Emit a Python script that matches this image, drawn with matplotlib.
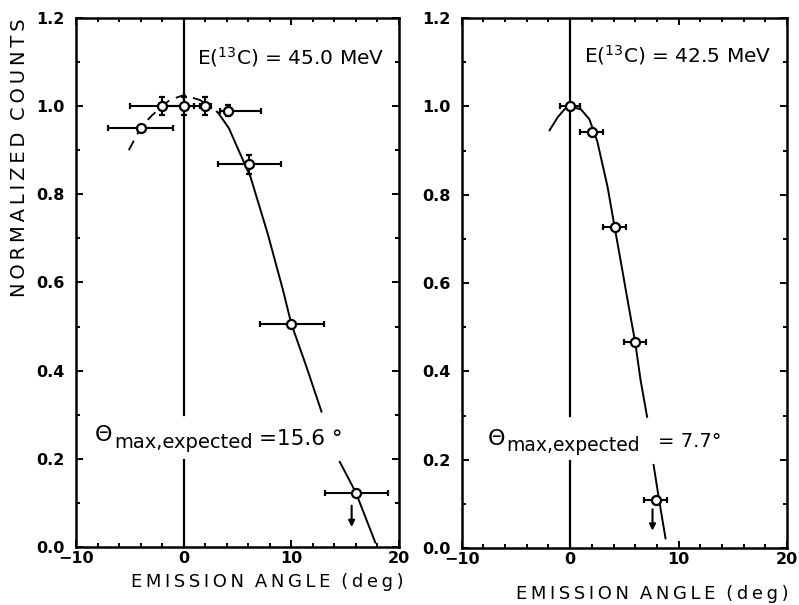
import numpy as np
import matplotlib.pyplot as plt
from matplotlib.ticker import MultipleLocator

# ---- E(13C) = 45.0 MeV ----
ang_45 = [-4.0, -2.0, 0.0, 2.0, 4.1, 6.1, 10.0, 16.0]
cnt_45 = [0.95, 1.0, 1.0, 1.0, 0.99, 0.868, 0.506, 0.123]
xerr_lo_45 = [3.0, 3.0, 2.0, 0.5, 0.7, 2.9, 2.9, 2.9]
xerr_hi_45 = [3.0, 3.0, 2.0, 0.5, 3.1, 2.9, 3.0, 3.0]
yerr_45 = [0.0, 0.021, 0.021, 0.021, 0.012, 0.022, 0.0, 0.0]

# curve (dashed top, dotted join, solid fall-off, lower tail)
fit45_dash_x = [-5.1, -3.9, -2.9, -1.3, 0.0, 1.5, 2.4]
fit45_dash_y = [0.90, 0.955, 0.98, 1.014, 1.025, 1.014, 1.0]
fit45_dot_x = [2.4, 3.2]
fit45_dot_y = [1.0, 0.985]
fit45_x = [3.2, 4.2, 5.1, 6.2, 7.8, 9.2, 10.0, 11.4, 12.8]
fit45_y = [0.985, 0.95, 0.90, 0.84, 0.711, 0.585, 0.506, 0.409, 0.307]
fit45_tail_x = [14.5, 16.0, 17.8]
fit45_tail_y = [0.193, 0.123, 0.01]
arrow45 = (15.6, 0.10, 0.039)

# ---- E(13C) = 42.5 MeV ----
ang_42 = [0.0, 2.0, 4.1, 6.0, 7.9]
cnt_42 = [1.0, 0.941, 0.726, 0.466, 0.109]
xerr_42 = [0.95, 1.05, 1.05, 1.0, 1.05]

fit42_x = [-1.9, -1.13, -0.5, 0.0, 1.0, 1.77, 2.5, 3.45, 4.1, 4.7, 5.3, 6.0,
           6.5, 7.1]
fit42_y = [0.946, 0.976, 0.994, 1.0, 0.993, 0.971, 0.921, 0.818, 0.727, 0.645,
           0.561, 0.466, 0.38, 0.297]
fit42_tail_x = [7.7, 8.2, 8.8]
fit42_tail_y = [0.188, 0.11, 0.022]
arrow42 = (7.6, 0.094, 0.033)

# gap in the x = 0 line where the label sits
vgap = (0.197, 0.30)

TS = '\u2009'
xlab = (TS * 3).join(TS.join(w) for w in 'EMISSION ANGLE (deg)'.split())
ylab = (TS * 3).join(TS.join(w) for w in 'NORMALIZED COUNTS'.split())

fig = plt.figure(figsize=(7.99, 6.05), dpi=100)
ax1 = fig.add_axes([0.0951, 0.0959, 0.4043, 0.8744])
ax2 = fig.add_axes([0.578, 0.0942, 0.4068, 0.876])


def style(ax):
    ax.set_xlim(-10, 20)
    ax.set_ylim(0, 1.2)
    ax.xaxis.set_major_locator(MultipleLocator(10))
    ax.xaxis.set_minor_locator(MultipleLocator(2))
    ax.yaxis.set_major_locator(MultipleLocator(0.2))
    ax.yaxis.set_minor_locator(MultipleLocator(0.1))
    ax.tick_params(which='both', direction='in', top=True, right=True, width=1.4)
    ax.tick_params(which='major', length=5)
    ax.tick_params(which='minor', length=3)
    ax.tick_params(axis='x', pad=3)
    ax.tick_params(axis='y', pad=8)
    for s in ax.spines.values():
        s.set_linewidth(1.8)
    ax.xaxis.set_major_formatter(lambda v, p: f"{v:.0f}".replace('-', '\u2212'))
    ax.yaxis.set_major_formatter(lambda v, p: f"{v:.1f}")
    for lab in ax.get_xticklabels() + ax.get_yticklabels():
        lab.set_fontsize(11.5)
        lab.set_fontweight('bold')
    y0, y1 = ax.get_ylim()
    ax.axvline(0, ymin=0, ymax=(vgap[0] - y0) / (y1 - y0), color='k', lw=1.6, zorder=1)
    ax.axvline(0, ymin=(vgap[1] - y0) / (y1 - y0), ymax=1, color='k', lw=1.6, zorder=1)


style(ax1)
style(ax2)

err_kw = dict(fmt='o', ms=6.5, mfc='white', mec='k', mew=1.6, ecolor='k',
              elinewidth=1.5, capsize=2.5, capthick=1.5, zorder=5)
arr_kw = dict(arrowstyle='-|>', color='k', lw=1.5, mutation_scale=9)

# left panel
ax1.plot(fit45_dash_x, fit45_dash_y, color='k', lw=1.3, ls=(0, (6, 4)))
ax1.plot(fit45_dot_x, fit45_dot_y, color='k', lw=1.3, ls=(0, (1.5, 3)))
ax1.plot(fit45_x, fit45_y, color='k', lw=1.4)
ax1.plot(fit45_tail_x, fit45_tail_y, color='k', lw=1.4)
ax1.errorbar(ang_45, cnt_45, xerr=[xerr_lo_45, xerr_hi_45], yerr=yerr_45, **err_kw)
ax1.annotate('', xy=(arrow45[0], arrow45[2]), xytext=(arrow45[0], arrow45[1]),
             arrowprops=arr_kw)
ax1.text(1.2, 1.112, r'E($^{13}$C) = 45.0 MeV', fontsize=14.5, va='center')
ax1.text(-8.3, 0.24, 'Θ', fontsize=16, va='baseline')
ax1.text(-6.4, 0.225, 'max,expected', fontsize=14, va='baseline')
ax1.text(7.0, 0.232, '=15.6 °', fontsize=15.5, va='baseline')
ax1.set_xlabel(xlab, fontsize=13)
ax1.xaxis.set_label_coords(0.593, -0.05)

# right panel
ax2.plot(fit42_x, fit42_y, color='k', lw=1.4)
ax2.plot(fit42_tail_x, fit42_tail_y, color='k', lw=1.4)
ax2.errorbar(ang_42, cnt_42, xerr=xerr_42, **err_kw)
ax2.annotate('', xy=(arrow42[0], arrow42[2]), xytext=(arrow42[0], arrow42[1]),
             arrowprops=arr_kw)
ax2.text(1.3, 1.116, r'E($^{13}$C) = 42.5 MeV', fontsize=14.5, va='center')
ax2.text(-7.6, 0.234, 'Θ', fontsize=16, va='baseline')
ax2.text(-5.9, 0.219, 'max,expected', fontsize=13.5, va='baseline')
ax2.text(8.1, 0.228, '= 7.7°', fontsize=14, va='baseline')
ax2.set_xlabel(xlab, fontsize=13)
ax2.xaxis.set_label_coords(0.585, -0.069)

fig.text(0.024, 0.74, ylab, rotation=90, fontsize=14, ha='center', va='center')

fig.savefig('out.png', dpi=100)
